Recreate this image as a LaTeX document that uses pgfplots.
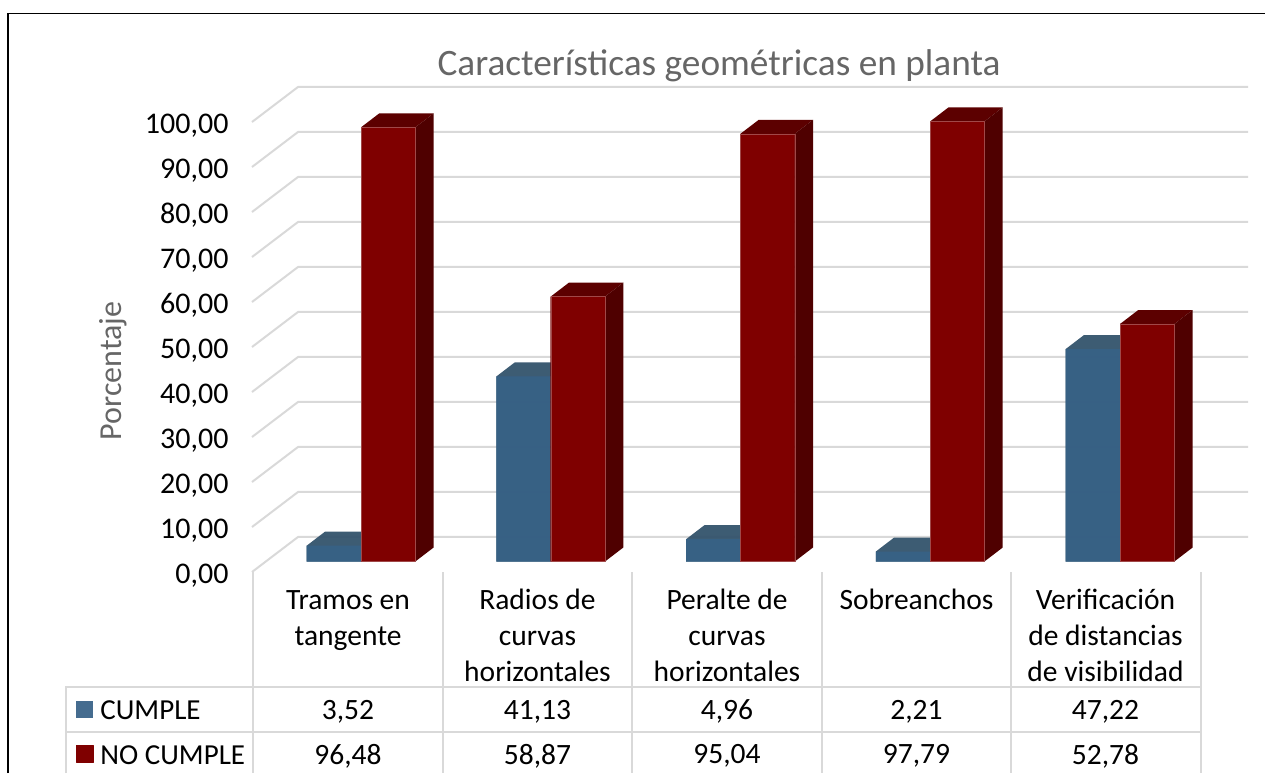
\documentclass[border=0pt]{standalone}
\usepackage{pgfplots}
\pgfplotsset{compat=1.18}
\usepackage{fontspec}
\setmainfont{Carlito}
\definecolor{gridc}{HTML}{D9D9D9}
\definecolor{txtgray}{HTML}{666666}
\definecolor{bluef}{HTML}{376186}
\definecolor{bluet}{HTML}{33536C}
\definecolor{bluel}{HTML}{3B6489}
\definecolor{redf}{HTML}{7F0000}
\definecolor{redt}{HTML}{5C0000}
\definecolor{reds}{HTML}{4F0000}
\definecolor{rededge}{HTML}{A04848}
\begin{document}
\begin{tikzpicture}
\useasboundingbox (0pt,0pt) rectangle (1265pt,-773pt);
\begin{axis}[
  at={(252pt,-572pt)}, anchor=south west,
  scale only axis, width=996pt, height=450pt,
  xmin=252, xmax=1248, ymin=0, ymax=100,
  clip=false,
  axis line style={draw=none},
  major tick length=0pt,
  tick style={draw=none},
  ytick={0,10,...,100},
  yticklabel style={font=\fontsize{30}{32}\selectfont, anchor=east, xshift=-20pt, yshift=-3.5pt,
    /pgf/number format/fixed, /pgf/number format/fixed zerofill, /pgf/number format/precision=2,
    /pgf/number format/use comma, /pgf/number format/assume math mode=true},
  xtick={348,537.5,727,916.5,1105.5},
  xticklabels={{\strut Tramos en\\tangente},{\strut Radios de\\curvas\\horizontales},{\strut Peralte de\\curvas\\horizontales},{\strut Sobreanchos},{\strut Verificación\\de distancias\\de visibilidad}},
  xticklabel style={font=\fontsize{29.5}{36}\selectfont, align=center, anchor=north, yshift=-9pt},
  legend style={at={(-0.1767,-0.2821)}, anchor=north west, draw=none, fill=none,
    font=\fontsize{29}{30}\selectfont, row sep=20pt, inner sep=0pt, outer sep=0pt,
    legend cell align=left,
    /tikz/every odd column/.append style={column sep=5pt}},
  every axis plot/.append style={line join=round},
  barb/.style={ybar, bar width=54.3pt, bar shift=0pt, yshift=10.5pt},
  poly/.style={draw=none, yshift=10.5pt, forget plot},
]
% back wall and side wall grid
\addplot[gridc, line width=2pt, forget plot] coordinates {(252,0)(298,7.78)(1248,7.78)};
\addplot[gridc, line width=2pt, forget plot] coordinates {(252,10)(298,17.78)(1248,17.78)};
\addplot[gridc, line width=2pt, forget plot] coordinates {(252,20)(298,27.78)(1248,27.78)};
\addplot[gridc, line width=2pt, forget plot] coordinates {(252,30)(298,37.78)(1248,37.78)};
\addplot[gridc, line width=2pt, forget plot] coordinates {(252,40)(298,47.78)(1248,47.78)};
\addplot[gridc, line width=2pt, forget plot] coordinates {(252,50)(298,57.78)(1248,57.78)};
\addplot[gridc, line width=2pt, forget plot] coordinates {(252,60)(298,67.78)(1248,67.78)};
\addplot[gridc, line width=2pt, forget plot] coordinates {(252,70)(298,77.78)(1248,77.78)};
\addplot[gridc, line width=2pt, forget plot] coordinates {(252,80)(298,87.78)(1248,87.78)};
\addplot[gridc, line width=2pt, forget plot] coordinates {(252,90)(298,97.78)(1248,97.78)};
\addplot[gridc, line width=2pt, forget plot] coordinates {(252,100)(298,107.78)(1248,107.78)};
% CUMPLE: top faces
\addplot[poly, fill=bluet, fill opacity=.95] coordinates {(306.7,3.52)(325.0,6.63)(379.3,6.63)(361.0,3.52)} \closedcycle;
\addplot[poly, fill=bluet, fill opacity=.95] coordinates {(496.4,41.13)(514.7,44.24)(569.0,44.24)(550.7,41.13)} \closedcycle;
\addplot[poly, fill=bluet, fill opacity=.95] coordinates {(686.1,4.96)(704.4,8.07)(758.7,8.07)(740.4,4.96)} \closedcycle;
\addplot[poly, fill=bluet, fill opacity=.95] coordinates {(875.8,2.21)(894.1,5.32)(948.4,5.32)(930.1,2.21)} \closedcycle;
\addplot[poly, fill=bluet, fill opacity=.95] coordinates {(1065.7,47.22)(1084.0,50.33)(1138.3,50.33)(1120.0,47.22)} \closedcycle;
% CUMPLE: front faces
\addplot[barb, draw=none, fill=bluef, fill opacity=.95,
  legend image code/.code={\fill[bluel] (0pt,-17.5pt) rectangle (17pt,-0.5pt);}]
  coordinates {(333.85,3.52)(523.55,41.13)(713.25,4.96)(902.95,2.21)(1092.85,47.22)};
\addlegendentry{CUMPLE}
% NO CUMPLE: top faces
\addplot[poly, fill=redt] coordinates {(361.0,96.48)(379.3,99.59)(433.6,99.59)(415.3,96.48)} \closedcycle;
\addplot[poly, fill=redt] coordinates {(550.7,58.87)(569.0,61.98)(623.3,61.98)(605.0,58.87)} \closedcycle;
\addplot[poly, fill=redt] coordinates {(740.4,95.04)(758.7,98.15)(813.0,98.15)(794.7,95.04)} \closedcycle;
\addplot[poly, fill=redt] coordinates {(930.1,97.79)(948.4,100.90)(1002.7,100.90)(984.4,97.79)} \closedcycle;
\addplot[poly, fill=redt] coordinates {(1120.0,52.78)(1138.3,55.89)(1192.6,55.89)(1174.3,52.78)} \closedcycle;
% NO CUMPLE: side faces
\addplot[poly, fill=reds] coordinates {(415.3,0)(433.6,3.11)(433.6,99.59)(415.3,96.48)} \closedcycle;
\addplot[poly, fill=reds] coordinates {(605.0,0)(623.3,3.11)(623.3,61.98)(605.0,58.87)} \closedcycle;
\addplot[poly, fill=reds] coordinates {(794.7,0)(813.0,3.11)(813.0,98.15)(794.7,95.04)} \closedcycle;
\addplot[poly, fill=reds] coordinates {(984.4,0)(1002.7,3.11)(1002.7,100.90)(984.4,97.79)} \closedcycle;
\addplot[poly, fill=reds] coordinates {(1174.3,0)(1192.6,3.11)(1192.6,55.89)(1174.3,52.78)} \closedcycle;
% NO CUMPLE: front faces
\addplot[barb, draw=rededge, line width=0.4pt, fill=redf,
  legend image code/.code={\fill[redf] (0pt,-17.5pt) rectangle (17pt,-0.5pt);}]
  coordinates {(388.15,96.48)(577.85,58.87)(767.55,95.04)(957.25,97.79)(1147.15,52.78)};
\addlegendentry{NO CUMPLE}
\end{axis}
\begin{scope}[x=1pt,y=-1pt]
% frame
\draw[black, line width=1.8pt] (8,773) -- (8,13.5) -- (1265,13.5);
% data table rules
\foreach \xx in {253,442.5,632,821.5,1011,1200.5} \draw[gridc, line width=2pt] (\xx,572) -- (\xx,773);
\draw[gridc, line width=2pt] (66,773) -- (66,687) -- (1200.5,687);
\draw[gridc, line width=2pt] (66,732) -- (1200.5,732);
% titles
\node[font=\fontsize{37.3}{40}\selectfont, text=txtgray] at (719,66) {Características geométricas en planta};
\node[font=\fontsize{32}{34}\selectfont, text=txtgray, rotate=90] at (113,371) {Porcentaje};
% data table values
\foreach \xx/\a/\b in {348/{3,52}/{96,48},537.5/{41,13}/{58,87},727/{4,96}/{95,04},916.5/{2,21}/{97,79},1105.5/{47,22}/{52,78}} {
  \node[font=\fontsize{29.5}{32}\selectfont] at (\xx,711.5) {\a};
  \node[font=\fontsize{29.5}{32}\selectfont] at (\xx,756) {\b};
}
\end{scope}
\end{tikzpicture}
\end{document}
